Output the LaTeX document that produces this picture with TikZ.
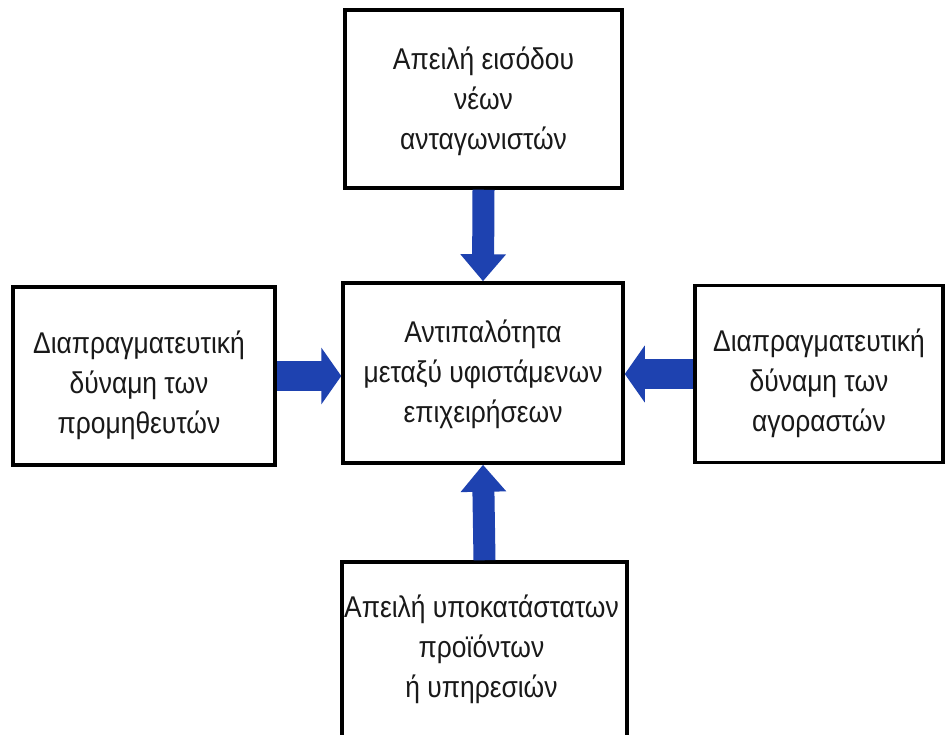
\documentclass[tikz,border=0pt]{standalone}
\usepackage{fontspec}
\setmainfont{Liberation Sans}[FakeStretch=0.88]
\usetikzlibrary{arrows.meta}
\definecolor{arrowblue}{RGB}{30,66,176}
\tikzset{
  forcebox/.style={draw=black, line width=3.5pt, fill=white, inner sep=0pt},
  boxtext/.style={align=center, font=\fontsize{30}{40}\selectfont, text=black!90},
  varrow/.style={draw=arrowblue, line width=22pt,
    -{Triangle[length=27pt, width=44pt]}},
  harrow/.style={draw=arrowblue, line width=30pt,
    -{Triangle[length=20pt, width=56pt]}},
}
\begin{document}
\begin{tikzpicture}[x=1pt, y=-1pt]
\clip (0,0) rectangle (945,735);
\fill[white] (0,0) rectangle (945,735);
\node[forcebox, minimum width=277pt, minimum height=178pt,
  label={[boxtext, yshift=-2pt]center:{Απειλή εισόδου\\νέων\\ανταγωνιστών}}]
  (top) at (483.5,99) {};
\node[forcebox, minimum width=280pt, minimum height=180pt,
  label={[boxtext, yshift=-1pt]center:{Αντιπαλότητα\\μεταξύ υφιστάμενων\\επιχειρήσεων}}]
  (center) at (483,373) {};
\node[forcebox, minimum width=262pt, minimum height=178pt,
  label={[boxtext, yshift=-9pt, xshift=-5pt]center:{Διαπραγματευτική\\δύναμη των\\προμηθευτών}}]
  (left) at (144,376) {};
\node[forcebox, minimum width=248pt, minimum height=177pt,
  label={[boxtext, yshift=-9pt]center:{Διαπραγματευτική\\δύναμη των\\αγοραστών}}]
  (right) at (819,374) {};
\node[forcebox, minimum width=285pt, minimum height=180pt,
  label={[boxtext, yshift=3pt, xshift=-3pt]center:{Απειλή υποκατάστατων\\προϊόντων\\ή υπηρεσιών}}]
  (bottom) at (484.5,652) {};
\draw[varrow] (top.south) -- (center.north);
\draw[varrow] (bottom.north) -- (center.south);
\draw[harrow] (left.east) -- (left.east -| center.west);
\draw[harrow] (right.west) -- (right.west -| center.east);
\end{tikzpicture}
\end{document}
